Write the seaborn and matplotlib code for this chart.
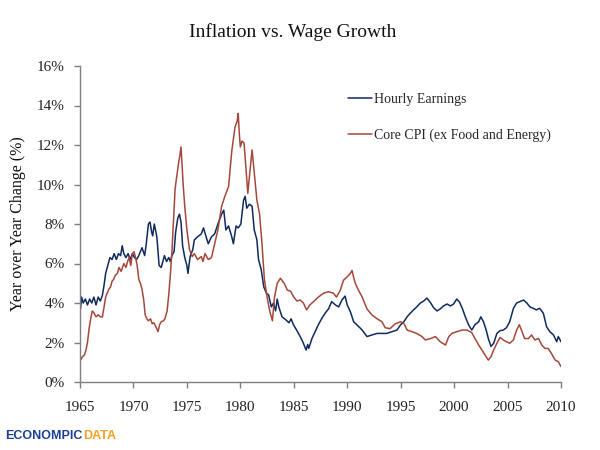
import pandas as pd
import matplotlib.pyplot as plt
import seaborn as sns

# Hourly earnings, year-over-year %
wage_years = [1965.0, 1965.05, 1965.15, 1965.3, 1965.5, 1965.7, 1965.9, 1966.1, 1966.3, 1966.5,
              1966.7, 1966.9, 1967.1, 1967.25, 1967.4, 1967.6, 1967.8, 1968.0, 1968.2, 1968.4,
              1968.6, 1968.8, 1968.95, 1969.1, 1969.3, 1969.5, 1969.7, 1969.9, 1970.1, 1970.3,
              1970.5, 1970.8, 1971.05, 1971.2, 1971.4, 1971.55, 1971.7, 1971.8, 1971.95, 1972.1,
              1972.2, 1972.4, 1972.6, 1972.75, 1972.9, 1973.1, 1973.3, 1973.45, 1973.6, 1973.8,
              1973.95, 1974.15, 1974.3, 1974.45, 1974.6, 1974.8, 1975.0, 1975.1, 1975.3, 1975.55,
              1975.7, 1976.0, 1976.35, 1976.55, 1976.8, 1977.0, 1977.3, 1977.6, 1977.9, 1978.25,
              1978.45, 1978.65, 1978.9, 1979.2, 1979.35, 1979.6, 1979.8, 1980.05, 1980.3, 1980.45,
              1980.6, 1980.85, 1981.1, 1981.3, 1981.55, 1981.7, 1981.95, 1982.2, 1982.45, 1982.65,
              1982.9, 1983.1, 1983.3, 1983.45, 1983.6, 1983.9, 1984.25, 1984.55, 1984.75, 1984.97,
              1985.3, 1985.6, 1985.9, 1986.15, 1986.3, 1986.4, 1986.7, 1987.0, 1987.3, 1987.6,
              1987.95, 1988.25, 1988.55, 1988.9, 1989.2, 1989.5, 1989.8, 1990.0, 1990.3, 1990.6,
              1990.9, 1991.4, 1991.85, 1992.3, 1992.8, 1993.25, 1993.7, 1994.2, 1994.65, 1995.0,
              1995.3, 1995.6, 1995.9, 1996.2, 1996.5, 1996.85, 1997.15, 1997.45, 1997.75, 1998.1,
              1998.4, 1998.7, 1999.0, 1999.35, 1999.65, 1999.95, 2000.25, 2000.5, 2000.75, 2001.05,
              2001.35, 2001.65, 2001.95, 2002.3, 2002.5, 2002.75, 2003.0, 2003.2, 2003.45, 2003.7,
              2004.0, 2004.3, 2004.6, 2004.9, 2005.2, 2005.55, 2005.85, 2006.15, 2006.5, 2006.8,
              2007.1, 2007.4, 2007.7, 2008.0, 2008.35, 2008.65, 2008.95, 2009.3, 2009.6, 2009.75,
              2010.0]
wage_vals = [4.3, 3.7, 4.3, 4.0, 4.2, 3.9, 4.2, 4.0, 4.3, 3.9,
             4.3, 4.1, 4.4, 4.9, 5.5, 5.9, 6.3, 6.2, 6.5, 6.2,
             6.5, 6.4, 6.9, 6.5, 6.3, 6.5, 6.2, 6.5, 6.3, 6.2,
             6.4, 6.8, 6.4, 7.0, 8.0, 8.1, 7.6, 7.4, 8.0, 7.6,
             7.3, 5.9, 5.8, 6.1, 6.4, 6.1, 6.3, 6.1, 6.4, 6.6,
             7.6, 8.3, 8.5, 8.1, 6.9, 6.3, 5.9, 5.5, 6.35, 6.7,
             7.2, 7.35, 7.5, 7.8, 7.35, 7.0, 7.35, 7.5, 8.0, 8.5,
             8.7, 7.7, 7.9, 7.35, 7.0, 7.9, 7.8, 8.0, 9.2, 9.4,
             8.8, 9.0, 8.9, 7.7, 7.2, 6.2, 5.7, 4.8, 4.5, 4.4,
             3.8, 4.0, 3.6, 4.2, 3.8, 3.3, 3.15, 3.0, 3.2, 2.9,
             2.6, 2.3, 1.96, 1.62, 1.9, 1.7, 2.2, 2.55, 2.9, 3.2,
             3.5, 3.7, 4.07, 3.9, 3.8, 4.15, 4.35, 3.9, 3.55, 3.05,
             2.9, 2.63, 2.3, 2.38, 2.46, 2.46, 2.46, 2.55, 2.63, 2.9,
             3.05, 3.3, 3.48, 3.65, 3.8, 4.0, 4.1, 4.25, 4.05, 3.75,
             3.6, 3.7, 3.85, 3.95, 3.85, 3.95, 4.2, 4.05, 3.75, 3.3,
             2.9, 2.63, 2.9, 3.05, 3.3, 3.05, 2.63, 2.2, 1.8, 1.96,
             2.46, 2.6, 2.63, 2.75, 3.05, 3.73, 4.0, 4.07, 4.15, 4.0,
             3.8, 3.73, 3.65, 3.73, 3.48, 2.8, 2.55, 2.38, 2.04, 2.3,
             2.04]

# Core CPI (ex food and energy), year-over-year %
cpi_years = [1965.0, 1965.1, 1965.25, 1965.4, 1965.55, 1965.7, 1965.85, 1966.0, 1966.15, 1966.3,
             1966.5, 1966.7, 1966.9, 1967.1, 1967.25, 1967.4, 1967.55, 1967.7, 1967.85, 1968.0,
             1968.15, 1968.3, 1968.5, 1968.65, 1968.85, 1969.1, 1969.3, 1969.45, 1969.6, 1969.75,
             1969.9, 1970.05, 1970.2, 1970.35, 1970.5, 1970.65, 1970.8, 1970.95, 1971.1, 1971.25,
             1971.4, 1971.6, 1971.75, 1971.9, 1972.1, 1972.3, 1972.45, 1972.6, 1972.8, 1972.95,
             1973.15, 1973.3, 1973.45, 1973.6, 1973.75, 1973.9, 1974.05, 1974.2, 1974.35, 1974.45,
             1974.55, 1974.65, 1974.8, 1975.0, 1975.25, 1975.5, 1975.7, 1976.0, 1976.35, 1976.5,
             1976.7, 1977.0, 1977.3, 1977.6, 1977.9, 1978.25, 1978.55, 1978.9, 1979.2, 1979.5,
             1979.7, 1979.8, 1979.9, 1980.0, 1980.15, 1980.35, 1980.55, 1980.7, 1980.85, 1981.1,
             1981.3, 1981.55, 1981.8, 1982.0, 1982.25, 1982.5, 1982.75, 1983.0, 1983.2, 1983.45,
             1983.75, 1984.1, 1984.4, 1984.7, 1985.0, 1985.3, 1985.6, 1985.9, 1986.2, 1986.5,
             1986.85, 1987.3, 1987.8, 1988.25, 1988.7, 1989.0, 1989.35, 1989.65, 1990.0, 1990.3,
             1990.45, 1990.6, 1990.75, 1991.05, 1991.4, 1991.85, 1992.3, 1992.8, 1993.25, 1993.55,
             1994.0, 1994.5, 1995.0, 1995.3, 1995.6, 1996.05, 1996.5, 1997.0, 1997.3, 1997.8,
             1998.25, 1998.7, 1999.2, 1999.5, 1999.8, 2000.25, 2000.75, 2001.2, 2001.65, 2001.95,
             2002.3, 2002.6, 2002.9, 2003.2, 2003.45, 2003.7, 2004.0, 2004.3, 2004.6, 2004.9,
             2005.2, 2005.55, 2005.85, 2006.1, 2006.3, 2006.6, 2006.95, 2007.25, 2007.55, 2007.9,
             2008.2, 2008.5, 2008.8, 2009.1, 2009.45, 2009.75, 2010.0]
cpi_vals = [1.3, 1.15, 1.3, 1.35, 1.6, 2.0, 2.7, 3.2, 3.6, 3.5,
            3.3, 3.4, 3.3, 3.3, 3.8, 4.3, 4.5, 4.7, 4.8, 5.1,
            5.2, 5.4, 5.5, 5.8, 5.6, 6.0, 5.8, 6.1, 6.3, 5.9,
            6.5, 6.6, 6.3, 5.9, 5.2, 5.0, 4.7, 4.2, 3.4, 3.2,
            3.1, 3.2, 2.95, 3.0, 2.8, 2.55, 2.9, 3.05, 3.1, 3.2,
            3.6, 4.4, 5.4, 6.6, 8.2, 9.8, 10.4, 11.0, 11.5, 11.9,
            11.0, 10.0, 8.9, 7.7, 6.7, 6.35, 6.5, 6.2, 6.35, 6.1,
            6.5, 6.2, 6.3, 7.0, 7.7, 8.9, 9.4, 9.9, 11.7, 12.9,
            13.2, 13.6, 12.6, 11.9, 12.2, 12.1, 10.6, 9.55, 10.4, 11.75,
            10.6, 9.2, 8.5, 7.2, 5.2, 4.3, 3.6, 3.1, 4.3, 5.0,
            5.25, 5.0, 4.65, 4.6, 4.3, 4.1, 4.15, 4.0, 3.65, 3.9,
            4.07, 4.3, 4.5, 4.57, 4.5, 4.3, 4.65, 5.15, 5.33, 5.5,
            5.65, 5.3, 5.0, 4.65, 4.3, 3.7, 3.4, 3.2, 3.05, 2.75,
            2.7, 2.95, 3.05, 2.97, 2.63, 2.55, 2.46, 2.3, 2.13, 2.2,
            2.3, 2.04, 1.87, 2.3, 2.46, 2.55, 2.63, 2.63, 2.5, 2.2,
            1.87, 1.62, 1.37, 1.11, 1.28, 1.62, 1.96, 2.26, 2.13, 2.04,
            1.96, 2.13, 2.63, 2.9, 2.63, 2.2, 2.2, 2.38, 2.13, 2.2,
            1.87, 1.7, 1.7, 1.45, 1.11, 1.03, 0.78]

series_names = ['Hourly Earnings', 'Core CPI (ex Food and Energy)']
x_ticks = list(range(1965, 2011, 5))
y_ticks = list(range(0, 17, 2))

df = pd.concat([
    pd.DataFrame({'year': wage_years, 'value': wage_vals, 'series': series_names[0]}),
    pd.DataFrame({'year': cpi_years, 'value': cpi_vals, 'series': series_names[1]}),
])

sns.set_style("ticks")
plt.rcParams['font.family'] = ['Liberation Serif', 'DejaVu Serif']

fig = plt.figure(figsize=(6, 4.5), dpi=100)
ax = fig.add_axes([80 / 600, 68 / 450, 481 / 600, 316 / 450])

palette = {series_names[0]: '#0f2a5f', series_names[1]: '#a5483b'}
sns.lineplot(data=df, x='year', y='value', hue='series', hue_order=series_names,
             palette=palette, estimator=None, sort=False, linewidth=1.1, ax=ax)

ax.set_xlim(1965, 2010)
ax.set_ylim(0, 16)
ax.set_xticks(x_ticks)
ax.set_xticklabels([str(t) for t in x_ticks])
ax.set_yticks(y_ticks)
ax.set_yticklabels([f'{t}%' for t in y_ticks])
ax.set_xlabel('')
ax.set_ylabel('')
sns.despine(ax=ax)
for s in ['left', 'bottom']:
    ax.spines[s].set_color('#7f7f7f')
    ax.spines[s].set_linewidth(1.0)
ax.tick_params(axis='both', colors='#7f7f7f', labelcolor='#222222', labelsize=11,
               length=4, width=1.0, direction='out')
ax.tick_params(axis='x', pad=10)
ax.tick_params(axis='y', pad=7)

sns.move_legend(ax, 'upper left', bbox_to_anchor=(0.557, 0.915), frameon=False, title=None,
                fontsize=10, borderpad=0, borderaxespad=0, handlelength=1.7,
                handletextpad=0.2, labelspacing=1.6)

fig.text(0.487, 0.929, 'Inflation vs. Wage Growth', ha='center', va='center', fontsize=14,
         color='#111111')
fig.text(0.03, 0.502, 'Year over Year Change (%)', rotation=90, ha='center', va='center',
         fontsize=11.5, color='#111111')

logo = fig.text(0.009, 0.032, 'ECONOMPIC', ha='left', va='center', fontsize=9,
                fontweight='bold', family='Liberation Sans', color='#1d3f93')
ax.annotate('DATA', xy=(1, 0), xycoords=logo, ha='left', va='bottom', fontsize=9,
            fontweight='bold', family='Liberation Sans', color='#f2a023',
            annotation_clip=False)

fig.savefig('out.png', dpi=100)
